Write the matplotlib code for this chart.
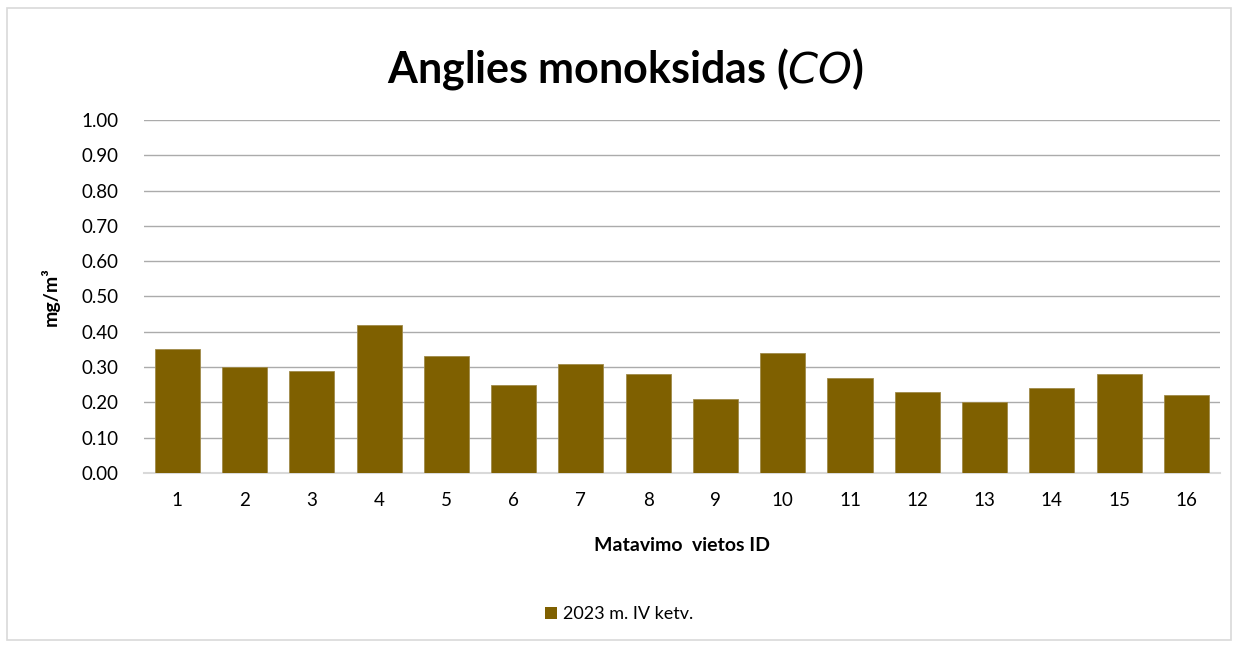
import matplotlib.pyplot as plt
from matplotlib.patches import Rectangle, Patch

plt.rcParams['font.family'] = ['Lato', 'DejaVu Sans']

sites = [str(i) for i in range(1, 17)]
co_values = [0.35, 0.30, 0.29, 0.42, 0.33, 0.25, 0.31, 0.28,
             0.21, 0.34, 0.27, 0.23, 0.20, 0.24, 0.28, 0.22]
y_ticks = [0.0, 0.1, 0.2, 0.3, 0.4, 0.5, 0.6, 0.7, 0.8, 0.9, 1.0]
series_name = "2023 m. IV ketv."
bar_color = "#7f6000"

fig = plt.figure(figsize=(12.38, 6.48), dpi=100)
fig.patches.append(Rectangle((0.006, 0.012), 0.988, 0.976, transform=fig.transFigure,
                             fill=False, edgecolor="#d9d9d9", linewidth=1.2))

ax = fig.add_axes([0.116, 0.270, 0.8695, 0.545])
ax.bar(range(len(sites)), co_values, width=0.67, color=bar_color,
       edgecolor="#a08a4a", linewidth=0.6, zorder=3)
ax.set_xlim(-0.5, len(sites) - 0.5)
ax.set_ylim(0, 1.0)
ax.set_yticks(y_ticks)
ax.set_yticklabels([f"{v:.2f}" for v in y_ticks])
ax.set_xticks(range(len(sites)))
ax.set_xticklabels(sites)
ax.tick_params(axis="both", length=0, labelsize=13.5)
ax.tick_params(axis="y", pad=18)
ax.tick_params(axis="x", pad=14)
ax.grid(axis="y", color="#ababab", linewidth=1.0, zorder=0)
for s in ["top", "right", "left"]:
    ax.spines[s].set_visible(False)
ax.spines["bottom"].set_color("#d9d9d9")
ax.spines["bottom"].set_linewidth(1.5)

ax.set_xlabel("Matavimo  vietos ID", fontsize=14, fontweight="bold", labelpad=20)
ax.set_ylabel("mg/m³", fontsize=14, fontweight="bold", labelpad=16)

fig.text(0.505, 0.893, r"Anglies monoksidas ($\mathit{CO}$)", ha="center", va="center",
         fontsize=31, fontweight="bold")

fig.legend(handles=[Patch(facecolor=bar_color, label=series_name)], loc="center",
           bbox_to_anchor=(0.5, 0.052), frameon=False, fontsize=13,
           handlelength=0.7, handleheight=0.7, handletextpad=0.3)

plt.savefig("out.png", dpi=100)
plt.close()
